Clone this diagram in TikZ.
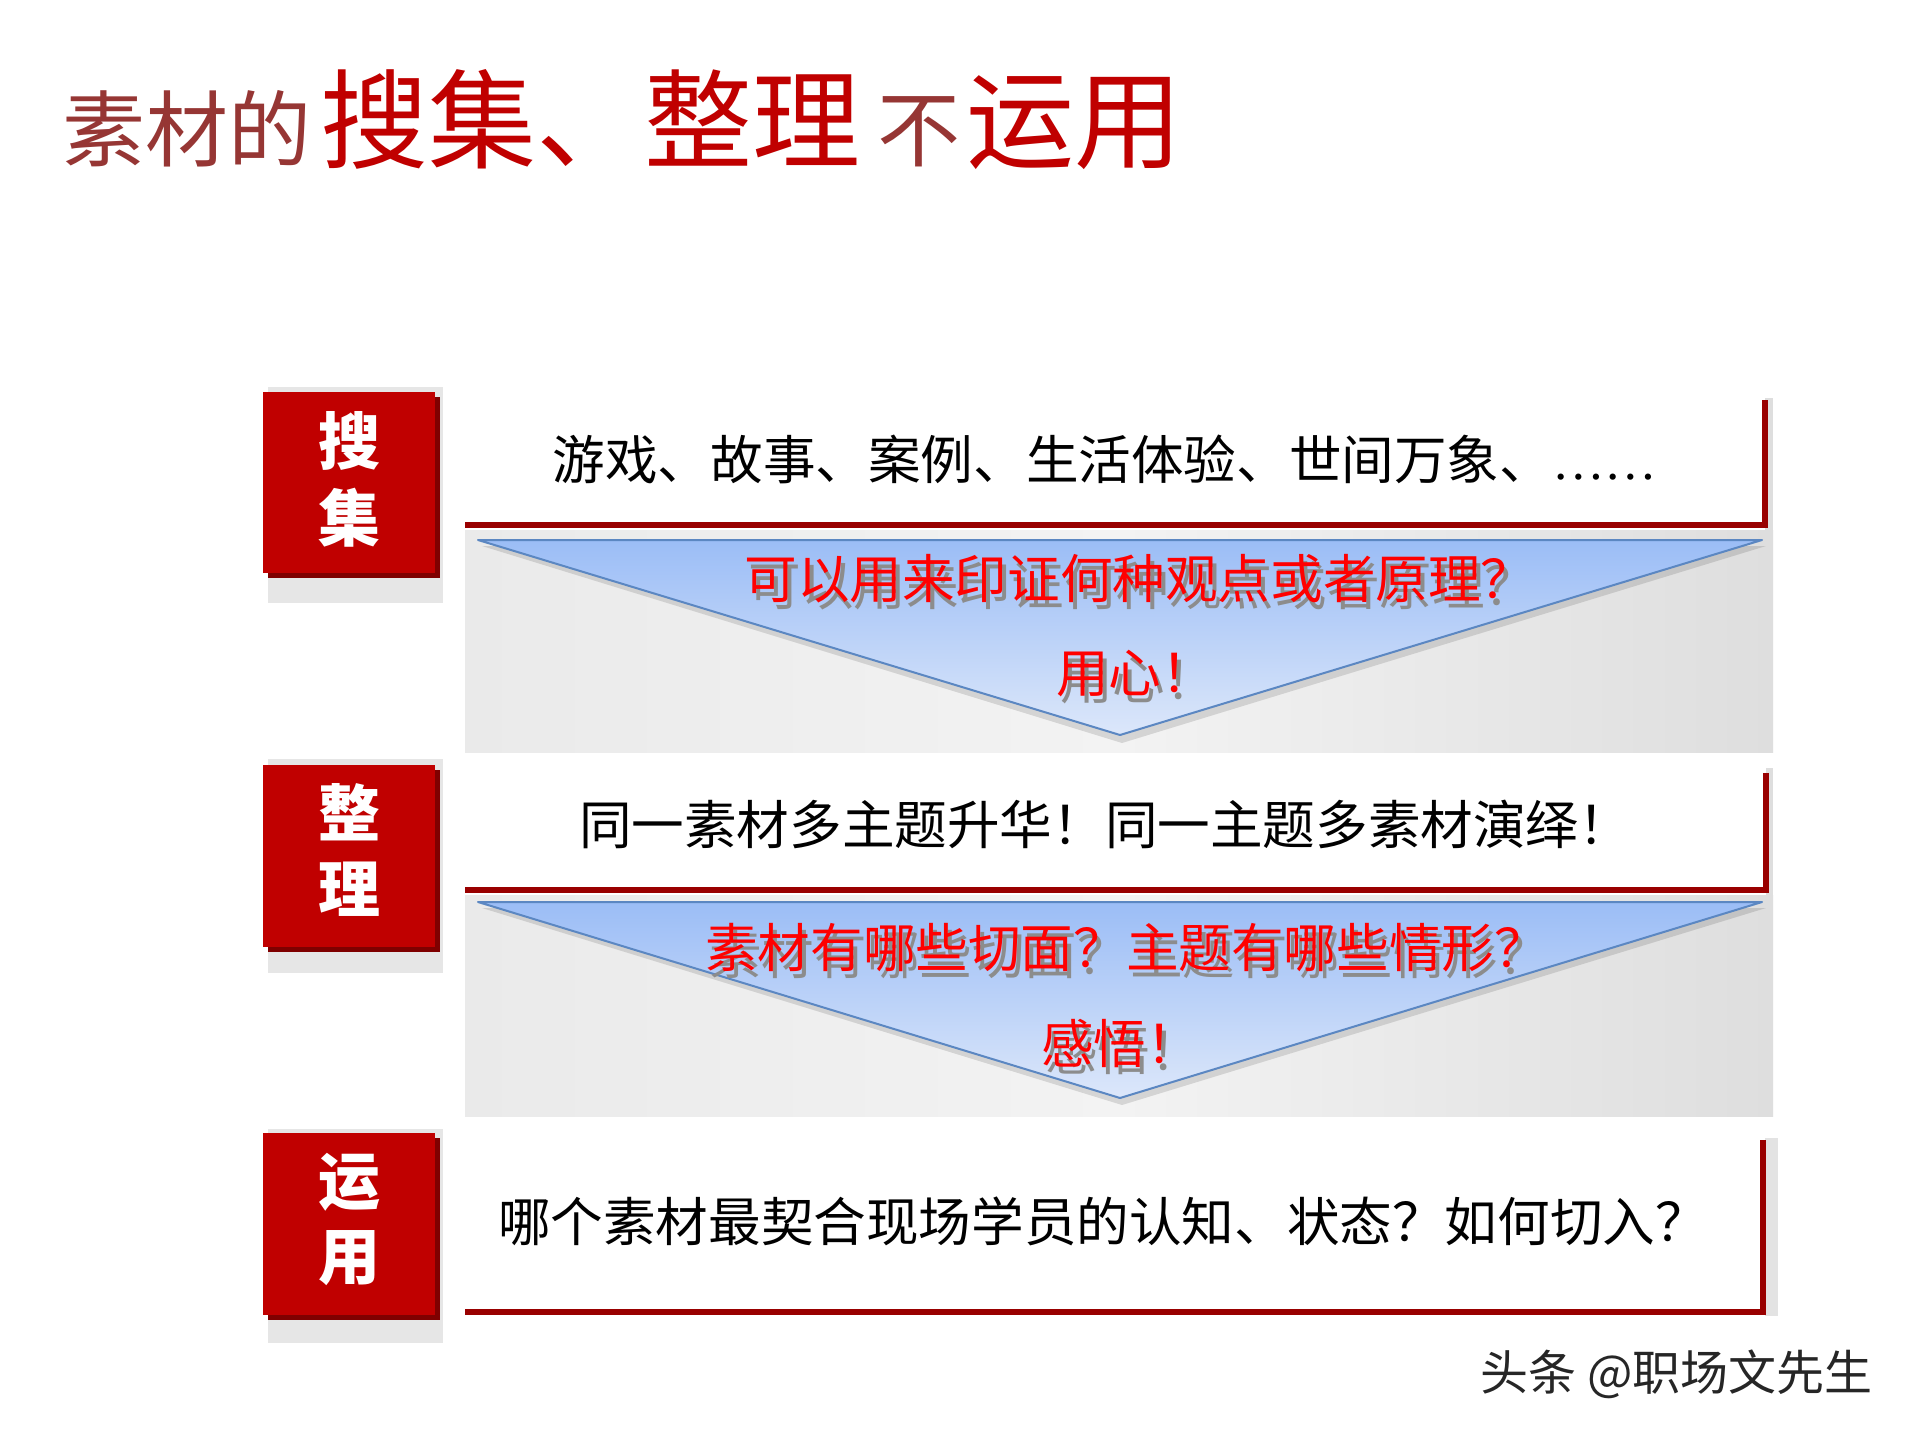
\documentclass[tikz,border=0pt]{standalone}
\usepackage{fontspec}
\setmainfont{Noto Sans CJK SC}
\newfontfamily\latinf{Liberation Serif}
\definecolor{titbrown}{HTML}{963634}
\definecolor{titred}{HTML}{C00000}
\definecolor{boxred}{HTML}{C00000}
\definecolor{boxshade}{HTML}{7F0000}
\definecolor{lineRed}{HTML}{990000}
\definecolor{lblbg}{HTML}{E6E6E6}
\definecolor{graL}{HTML}{EAEAEA}
\definecolor{graM}{HTML}{F3F3F3}
\definecolor{graR}{HTML}{DEDEDE}
\definecolor{triT}{HTML}{9BBDF6}
\definecolor{triB}{HTML}{DCE7FA}
\definecolor{triE}{HTML}{5B87C2}
\definecolor{qred}{HTML}{FF0000}
\definecolor{qshade}{HTML}{8C8C8C}
\newcommand{\qshadowed}[1]{\makebox[0pt][l]{\hspace{2pt}\raisebox{-3.5pt}{\textcolor{qshade}{#1}}}#1}
\begin{document}
\begin{tikzpicture}[x=0.5pt,y=-0.5pt,
  bigt/.style={anchor=base west, inner sep=0pt, font=\fontsize{54pt}{60pt}\selectfont, text=titred},
  smallt/.style={anchor=base west, inner sep=0pt, font=\fontsize{41.5pt}{46pt}\selectfont, text=titbrown},
  body/.style={inner sep=0pt, font=\fontsize{26.3pt}{30pt}\selectfont, text=black},
  qtxt/.style={inner sep=0pt, font=\fontsize{26.3pt}{30pt}\selectfont, text=qred},
  lbltxt/.style={inner sep=0pt, font=\fontsize{31pt}{34pt}\selectfont\bfseries, text=white},
  grayzone/.style={left color=graL, right color=graR, middle color=graM},
  tri/.style={top color=triT, bottom color=triB, draw=triE, line width=1pt, line join=round},
  trish/.style={fill=black, opacity=0.12},
  redline/.style={draw=lineRed, line width=3pt},
  lblback/.style={fill=lblbg},
  lblshade/.style={fill=boxshade},
  lblbox/.style={fill=boxred}
]
\useasboundingbox[fill=white] (0,0) rectangle (1920,1440);

% ---------- title ----------
\node[smallt] (T1) at (62,160) {素材的};
\node[bigt] (T2) at (320,160) {搜集、整理};
\node[smallt] (T3) at (877,160) {不};
\node[bigt] (T4) at (966,160) {运用};

% ---------- row 1 ----------
\fill[lblback] (268,387) rectangle (443,603);
\fill[lblshade] (268,397) rectangle (440,578);
\fill[lblbox] (263,392) rectangle (435,573);
\node[lbltxt] (L1a) at (349,441) {搜};
\node[lbltxt] (L1b) at (349,518) {集};

\fill[grayzone] (465,530) rectangle (1773,752);
\fill[graR] (1765,398) rectangle (1773,530);
\fill[trish] (482,546) -- (1766,546) -- (1122,743) -- cycle;
\path[tri] (478,540) -- (1762,540) -- (1120,735) -- cycle;
\draw[redline] (465,525) -- (1765,525) -- (1765,400);
\node[body] (B1) at (1105,459) {游戏、故事、案例、生活体验、世间万象、{\latinf ……}};
\node[qtxt] (Q1) at (1139,582) {\qshadowed{可以用来印证何种观点或者原理？}};
\node[qtxt] (R1) at (1135,677) {\qshadowed{用心！}};

% ---------- row 2 ----------
\fill[lblback] (268,759) rectangle (443,973);
\fill[lblshade] (268,770) rectangle (440,952);
\fill[lblbox] (263,765) rectangle (435,947);
\node[lbltxt] (L2a) at (349,812) {整};
\node[lbltxt] (L2b) at (349,889) {理};

\fill[grayzone] (465,895) rectangle (1773,1116);
\fill[graR] (1766,768) rectangle (1773,895);
\fill[trish] (482,908) -- (1766,908) -- (1122,1105) -- cycle;
\path[tri] (478,902) -- (1762,902) -- (1120,1098) -- cycle;
\draw[redline] (465,890) -- (1766,890) -- (1766,773);
\node[body] (B2) at (1105,824) {同一素材多主题升华！同一主题多素材演绎！};
\node[qtxt] (Q2) at (1126,951) {\qshadowed{素材有哪些切面？主题有哪些情形？}};
\node[qtxt] (R2) at (1120,1047) {\qshadowed{感悟！}};

% ---------- row 3 ----------
\fill[lblback] (268,1129) rectangle (443,1343);
\fill[lblshade] (268,1138) rectangle (440,1320);
\fill[lblbox] (263,1133) rectangle (435,1315);
\node[lbltxt] (L3a) at (349,1182) {运};
\node[lbltxt] (L3b) at (349,1258) {用};

\fill[graR!85!white] (1765,1138) rectangle (1778,1316);
\draw[redline] (465,1312) -- (1763,1312) -- (1763,1140);
\node[body] (B3) at (1103,1221) {哪个素材最契合现场学员的认知、状态？如何切入？};

% ---------- watermark ----------
\node[anchor=west, inner sep=0pt, font=\fontsize{24pt}{28pt}\selectfont, text=black!85] (W) at (1480,1374) {头条 @职场文先生};
\end{tikzpicture}
\end{document}
